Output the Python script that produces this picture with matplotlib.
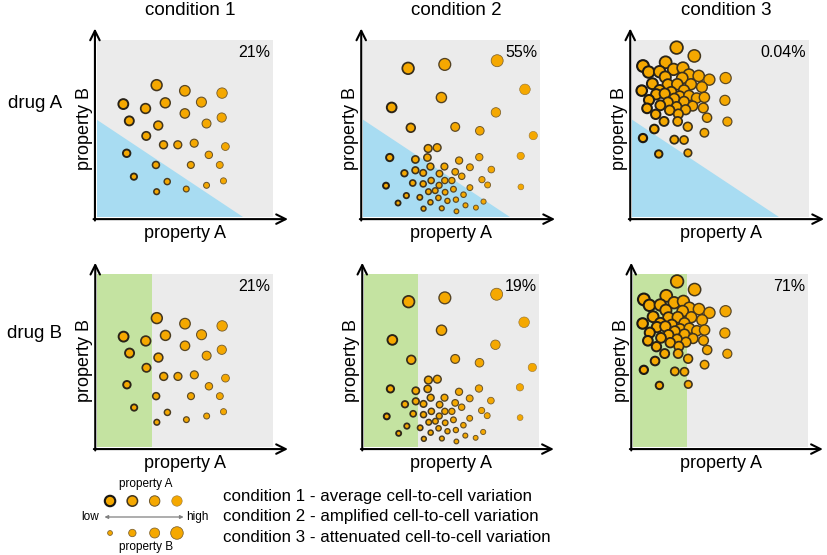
import matplotlib

matplotlib.use("Agg")
import matplotlib.pyplot as plt
import numpy as np
from matplotlib.patches import Polygon, Rectangle

plt.rcParams["font.family"] = ["Liberation Sans", "DejaVu Sans"]

# cell positions (property A, property B), scaled 0-1
cond1_a = [0.340, 0.500, 0.711, 0.151, 0.277, 0.389, 0.594, 0.500, 0.185, 0.349,
           0.623, 0.709, 0.281, 0.379, 0.460, 0.553, 0.730, 0.170, 0.636, 0.336,
           0.534, 0.698, 0.211, 0.400, 0.623, 0.719, 0.340, 0.508]
cond1_b = [0.745, 0.713, 0.700, 0.638, 0.613, 0.645, 0.649, 0.585, 0.543, 0.517,
           0.528, 0.562, 0.458, 0.408, 0.408, 0.417, 0.398, 0.360, 0.351, 0.294,
           0.294, 0.294, 0.228, 0.200, 0.179, 0.204, 0.143, 0.158]

cond2_a = [0.255, 0.462, 0.758, 0.915, 0.443, 0.162, 0.751, 0.270, 0.521, 0.660,
           0.962, 0.368, 0.419, 0.151, 0.296, 0.364, 0.543, 0.657, 0.891, 0.381,
           0.460, 0.604, 0.234, 0.296, 0.340, 0.432, 0.521, 0.725, 0.385, 0.281,
           0.340, 0.430, 0.462, 0.502, 0.558, 0.672, 0.704, 0.892, 0.604, 0.130,
           0.370, 0.408, 0.464, 0.511, 0.245, 0.321, 0.381, 0.426, 0.477, 0.525,
           0.568, 0.198, 0.342, 0.445, 0.528, 0.579, 0.638, 0.681]
cond2_b = [0.840, 0.862, 0.883, 0.721, 0.675, 0.619, 0.591, 0.504, 0.509, 0.487,
           0.460, 0.387, 0.392, 0.336, 0.325, 0.336, 0.319, 0.338, 0.345, 0.285,
           0.285, 0.281, 0.247, 0.264, 0.249, 0.245, 0.255, 0.268, 0.206, 0.192,
           0.187, 0.179, 0.206, 0.206, 0.230, 0.211, 0.181, 0.170, 0.166, 0.177,
           0.143, 0.149, 0.140, 0.157, 0.121, 0.111, 0.083, 0.108, 0.091, 0.098,
           0.126, 0.079, 0.047, 0.049, 0.032, 0.066, 0.053, 0.087]

cond3_a = [0.252, 0.352, 0.062, 0.190, 0.094, 0.156, 0.235, 0.288, 0.322, 0.377,
           0.437, 0.529, 0.188, 0.284, 0.115, 0.203, 0.256, 0.333, 0.156, 0.222,
           0.294, 0.055, 0.395, 0.137, 0.185, 0.269, 0.322, 0.365, 0.409, 0.096,
           0.239, 0.294, 0.203, 0.160, 0.252, 0.343, 0.525, 0.085, 0.213, 0.303,
           0.403, 0.134, 0.262, 0.424, 0.181, 0.258, 0.539, 0.315, 0.126, 0.409,
           0.062, 0.239, 0.294, 0.151, 0.316]
cond3_b = [0.957, 0.910, 0.853, 0.874, 0.819, 0.821, 0.834, 0.842, 0.804, 0.797,
           0.776, 0.785, 0.791, 0.785, 0.753, 0.748, 0.750, 0.750, 0.716, 0.706,
           0.716, 0.714, 0.734, 0.693, 0.697, 0.682, 0.686, 0.672, 0.676, 0.661,
           0.669, 0.652, 0.648, 0.631, 0.623, 0.627, 0.659, 0.614, 0.603, 0.606,
           0.616, 0.580, 0.582, 0.561, 0.540, 0.540, 0.539, 0.510, 0.497, 0.476,
           0.446, 0.437, 0.435, 0.356, 0.362]

conditions = ["condition 1", "condition 2", "condition 3"]
drugs = ["drug A", "drug B"]
pct_drug_a = ["21%", "55%", "0.04%"]
pct_drug_b = ["21%", "19%", "71%"]

# gates: drug A = triangle under the line B = 0.55 * (1 - A / 0.83); drug B = A < 0.31
gate_a_b0 = 0.55
gate_a_a0 = 0.83
gate_b_amax = 0.31

legend_levels = [0.05, 0.35, 0.65, 0.95]
descriptions = [
    "condition 1 - average cell-to-cell variation",
    "condition 2 - amplified cell-to-cell variation",
    "condition 3 - attenuated cell-to-cell variation",
]

W, H = 827, 555
DPI = 100
FILL = "#F5A800"
GRAY = "#EBEBEB"
BLUE = "#A8DCF2"
GREEN = "#C4E3A1"


def fx(x):
    return x / W


def fy(y):
    return 1 - y / H


def marker_size(b):
    d = 4.4 + 8.6 * np.asarray(b)  # diameter in px grows with property B
    return (d * 72 / DPI) ** 2


def edge_style(a):
    a = np.clip(np.asarray(a, dtype=float), 0, 1)
    lw = np.clip(1.6 - 1.4 * a, 0.4, None)
    dark = np.array([0.07, 0.07, 0.07])
    light = np.array([0.62, 0.48, 0.22])
    cols = dark + (light - dark) * a[:, None]
    return lw, cols


def draw_cells(ax, a, b):
    lw, cols = edge_style(a)
    ax.scatter(a, b, s=marker_size(b), c=FILL, edgecolors=cols, linewidths=lw,
               zorder=3, clip_on=False)


def draw_axes_arrows(ax):
    style = dict(arrowstyle="->", lw=1.5, color="black", mutation_scale=17,
                 shrinkA=0, shrinkB=0)
    ax.annotate("", xy=(1.085, -0.012), xytext=(-0.018, -0.012),
                xycoords="axes fraction", arrowprops=style, annotation_clip=False)
    ax.annotate("", xy=(-0.01, 1.065), xytext=(-0.01, -0.02),
                xycoords="axes fraction", arrowprops=style, annotation_clip=False)


fig = plt.figure(figsize=(W / DPI, H / DPI), dpi=DPI)

# pixel boxes of the grey plotting areas: (left, top, right, bottom)
top_boxes = [(96.7, 40, 273, 217), (363, 40, 540, 217), (632, 40, 809, 217)]
bot_boxes = [(97, 274, 273, 447), (364, 274, 539, 447), (633, 274, 808, 447)]
cells = [(cond1_a, cond1_b), (cond2_a, cond2_b), (cond3_a, cond3_b)]

for row, (boxes, pcts) in enumerate([(top_boxes, pct_drug_a), (bot_boxes, pct_drug_b)]):
    for col, (l, t, r, b) in enumerate(boxes):
        ax = fig.add_axes([fx(l), fy(b), (r - l) / W, (b - t) / H])
        ax.set_xlim(0, 1)
        ax.set_ylim(0, 1)
        ax.set_facecolor(GRAY)
        for s in ax.spines.values():
            s.set_visible(False)
        ax.set_xticks([])
        ax.set_yticks([])
        if row == 0:
            ax.add_patch(Polygon([(0, 0), (0, gate_a_b0), (gate_a_a0, 0)],
                                 closed=True, facecolor=BLUE, edgecolor="none", zorder=1))
        else:
            ax.add_patch(Rectangle((0, 0), gate_b_amax, 1, facecolor=GREEN,
                                   edgecolor="none", zorder=1))
        draw_cells(ax, *cells[col])
        draw_axes_arrows(ax)
        ax.text(0.985, 0.93, pcts[col], transform=ax.transAxes, ha="right",
                va="center", fontsize=11.5, zorder=4)
        ax.text(-0.02, 0.5, "property B", transform=ax.transAxes, rotation=90,
                ha="right", va="center", fontsize=13)
        ax.text(0.5, -0.095, "property A", transform=ax.transAxes, ha="center",
                va="center", fontsize=13)
        if row == 0:
            ax.text(0.53, 1.165, conditions[col], transform=ax.transAxes,
                    ha="center", va="center", fontsize=13.5)

fig.text(fx(35), fy(103), drugs[0], ha="center", va="center", fontsize=13.5)
fig.text(fx(35), fy(333), drugs[1], ha="center", va="center", fontsize=13.5)

# legend key for marker encoding
leg = fig.add_axes([fx(100), fy(552), 87 / W, 72 / H])
leg.set_xlim(-0.45, 3.45)
leg.set_ylim(72, 0)
leg.axis("off")
xs = np.arange(len(legend_levels))
lw_a, col_a = edge_style(legend_levels)
leg.scatter(xs, [21] * len(xs), s=marker_size([0.7] * len(xs)), c=FILL,
            edgecolors=col_a, linewidths=lw_a, clip_on=False)
lw_b, col_b = edge_style([0.75] * len(xs))
leg.scatter(xs, [53] * len(xs), s=marker_size(legend_levels), c=FILL,
            edgecolors=col_b, linewidths=lw_b, clip_on=False)
leg.annotate("", xy=(3.3, 37), xytext=(-0.25, 37), xycoords="data",
             arrowprops=dict(arrowstyle="<|-|>", lw=0.9, color="#808080",
                             mutation_scale=5, shrinkA=0, shrinkB=0),
             annotation_clip=False)
fig.text(fx(146), fy(484), "property A", ha="center", va="center", fontsize=8.5)
fig.text(fx(146), fy(547), "property B", ha="center", va="center", fontsize=8.5)
fig.text(fx(99), fy(517), "low", ha="right", va="center", fontsize=8.5)
fig.text(fx(186), fy(517), "high", ha="left", va="center", fontsize=8.5)

for i, line in enumerate(descriptions):
    fig.text(fx(223), fy(497 + 20 * i), line, ha="left", va="center", fontsize=12.2)

fig.savefig("out.png", dpi=DPI)
plt.close(fig)
